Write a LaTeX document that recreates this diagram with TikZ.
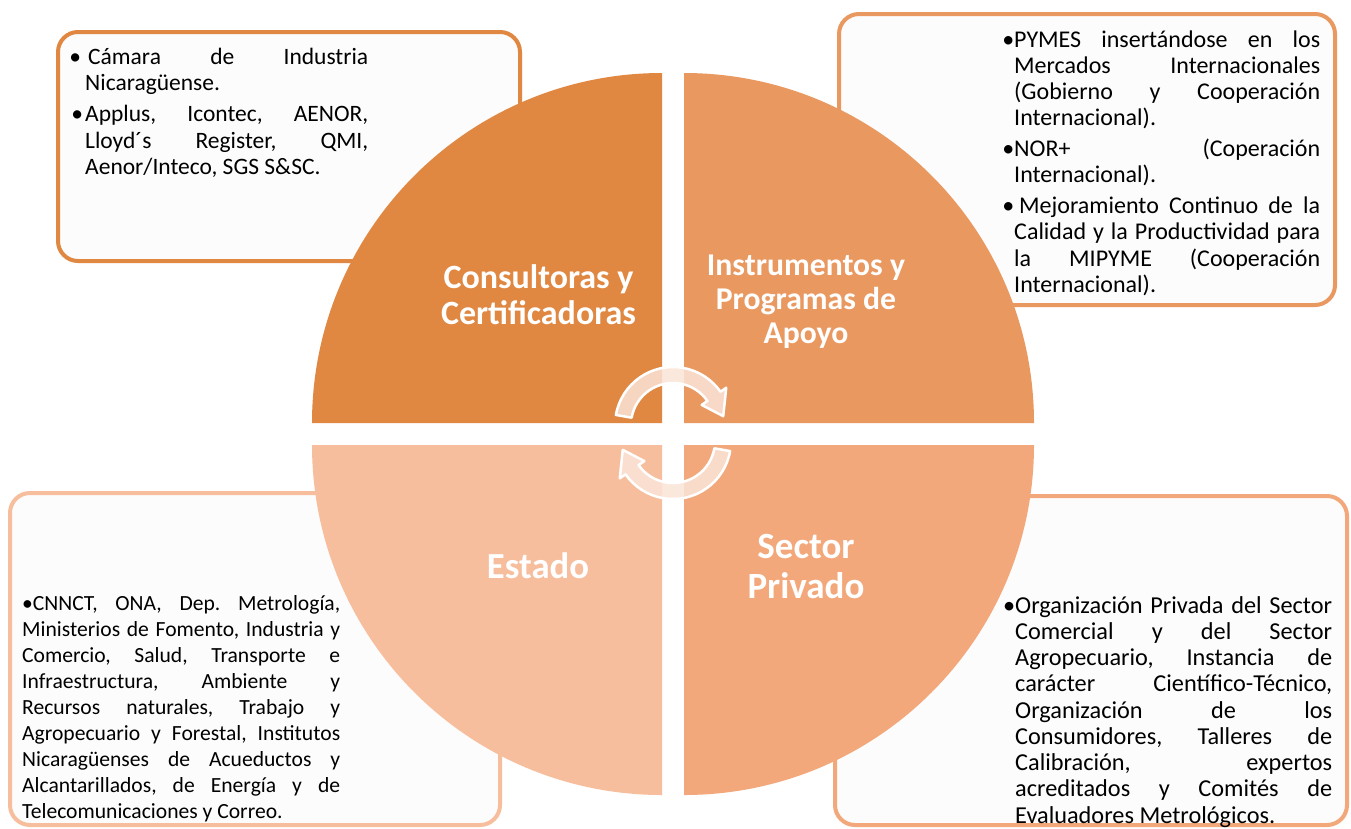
\documentclass[tikz,border=0pt]{standalone}
\usepackage{fontspec}
\setmainfont{Carlito}
\usetikzlibrary{calc}
\definecolor{qTL}{RGB}{224,135,65}
\definecolor{qTR}{RGB}{233,152,96}
\definecolor{qBR}{RGB}{242,168,122}
\definecolor{qBL}{RGB}{247,190,158}
\definecolor{boxfill}{RGB}{252,252,252}
\definecolor{arrfill}{RGB}{251,228,216}
\newcommand{\jline}[1]{\makebox[\linewidth][s]{#1}\\}
\frenchspacing
\begin{document}
\begin{tikzpicture}[x=1pt,y=-1pt,
  infobox/.style={draw, line width=4pt, rounded corners=20pt, fill=boxfill, inner sep=0pt},
  quadtitle/.style={text=white, font=\bfseries, inner sep=0pt, anchor=base},
  bodytext/.style={text=black, inner sep=0pt, anchor=base west},
  cyc/.style={fill=arrfill, fill opacity=0.85, draw=white, line width=2.5pt, line join=round}]
\useasboundingbox (0,0) rectangle (1351,828);
\fill[white] (0,0) rectangle (1351,828);

% information boxes
\node[infobox, draw=qTL, minimum width=462pt, minimum height=229pt] (boxTL) at (289,146.5) {};
\node[infobox, draw=qTR, minimum width=496pt, minimum height=291pt] (boxTR) at (1087,159.5) {};
\node[infobox, draw=qBL, minimum width=490pt, minimum height=332pt] (boxBL) at (255,659) {};
\node[infobox, draw=qBR, minimum width=512pt, minimum height=329pt] (boxBR) at (1091,660.5) {};

% quadrants
\fill[qTL] (662,423) -- (312,423) arc[start angle=180,end angle=270,radius=350] -- cycle;
\fill[qTR] (684,423) -- (684,73) arc[start angle=270,end angle=360,radius=350] -- cycle;
\fill[qBR] (684,445) -- (1034,445) arc[start angle=0,end angle=90,radius=350] -- cycle;
\fill[qBL] (662,445) -- (662,795) arc[start angle=90,end angle=180,radius=350] -- cycle;

% cycle arrows
\coordinate (cT) at (673,425);
\coordinate (cB) at (673,441);
\path[cyc] ($(cT)+(-170:58)$) arc[start angle=-170,end angle=-35,radius=58]
  -- ($(cT)+(-35:65)$) -- ($(cT)+(-10:51)$) -- ($(cT)+(-35:35)$) -- ($(cT)+(-35:42)$)
  arc[start angle=-35,end angle=-170,radius=42] -- cycle;
\path[cyc] ($(cB)+(10:58)$) arc[start angle=10,end angle=145,radius=58]
  -- ($(cB)+(145:65)$) -- ($(cB)+(170:51)$) -- ($(cB)+(145:35)$) -- ($(cB)+(145:42)$)
  arc[start angle=145,end angle=10,radius=42] -- cycle;

% quadrant titles
\node[quadtitle] (tCC) at (538.5,288) {\parbox[t]{260pt}{\centering\fontsize{34}{36}\selectfont Consultoras y\\Certificadoras}};
\node[quadtitle] (tIP) at (806,275) {\parbox[t]{260pt}{\centering\fontsize{31.7}{34}\selectfont Instrumentos y\\Programas de\\Apoyo}};
\node[quadtitle] (tE) at (538,578) {\fontsize{36.7}{40}\selectfont Estado};
\node[quadtitle] (tSP) at (806,558) {\parbox[t]{260pt}{\centering\fontsize{37}{40}\selectfont Sector\\Privado}};

% box texts
\node[bodytext] (txTL) at (85,64) {\parbox[t]{283pt}{\fontsize{23.5}{26.5}\selectfont
\jline{\llap{•\hspace{4pt}}\hspace{3pt}Cámara de Industria}
Nicaragüense.\\[4.5pt]
\jline{\llap{•\hspace{2pt}}Applus, Icontec, AENOR,}
\jline{Lloyd´s Register, QMI,}
Aenor/Inteco, SGS S\&SC.}};

\node[bodytext] (txTR) at (1014,47) {\parbox[t]{306pt}{\fontsize{24}{26.3}\selectfont
\jline{\llap{•}PYMES insertándose en los}
\jline{Mercados Internacionales}
\jline{(Gobierno y Cooperación}
Internacional).\\[4.3pt]
\jline{\llap{•}NOR+ (Coperación}
Internacional).\\[4.3pt]
\jline{\llap{•}\hspace{5pt}Mejoramiento Continuo de la}
\jline{Calidad y la Productividad para}
\jline{la MIPYME (Cooperación}
Internacional).}};

\node[bodytext] (txBL) at (22,610) {\parbox[t]{318pt}{\fontsize{21.6}{26.1}\selectfont
\jline{•CNNCT, ONA, Dep. Metrología,}
\jline{Ministerios de Fomento, Industria y}
\jline{Comercio, Salud, Transporte e}
\jline{Infraestructura, Ambiente y}
\jline{Recursos naturales, Trabajo y}
\jline{Agropecuario y Forestal, Institutos}
\jline{Nicaragüenses de Acueductos y}
\jline{Alcantarillados, de Energía y de}
Telecomunicaciones y Correo.}};

\node[bodytext] (txBR) at (1015,613) {\parbox[t]{317pt}{\fontsize{24.3}{26.25}\selectfont
\jline{\llap{•}Organización Privada del Sector}
\jline{Comercial y del Sector}
\jline{Agropecuario, Instancia de}
\jline{carácter Científico-Técnico,}
\jline{Organización de los}
\jline{Consumidores, Talleres de}
\jline{Calibración, expertos}
\jline{acreditados y Comités de}
Evaluadores Metrológicos.}};
\end{tikzpicture}
\end{document}
